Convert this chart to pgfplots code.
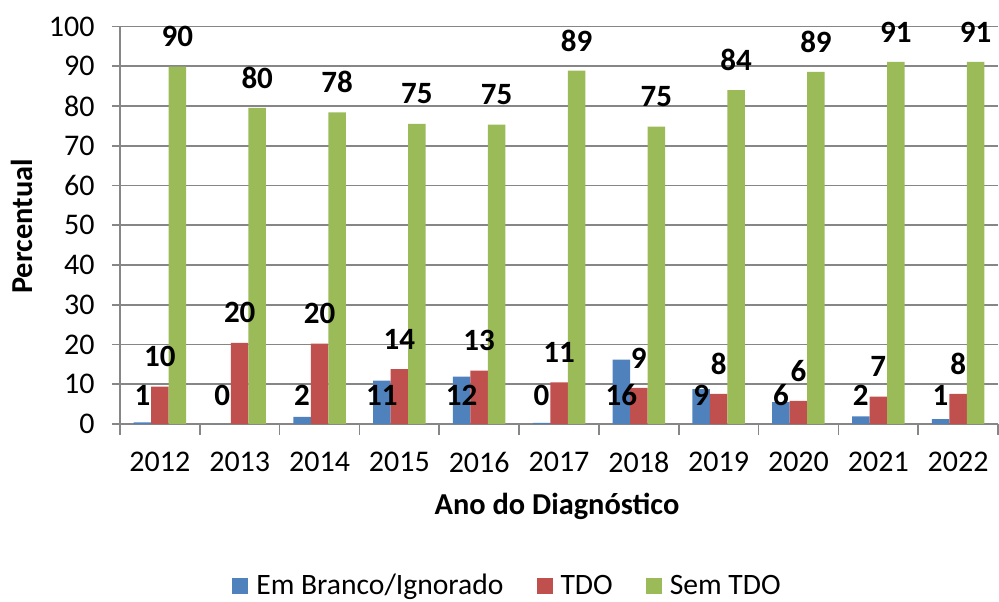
\documentclass[border=0pt]{standalone}
\usepackage{pgfplots}
\usepackage{pgfplotstable}
\pgfplotsset{compat=1.18}
\usepackage{fontspec}
\setmainfont{Carlito}
\definecolor{cblue}{RGB}{79,129,189}
\definecolor{cred}{RGB}{192,80,77}
\definecolor{cgreen}{RGB}{155,187,89}
\definecolor{cgrid}{RGB}{134,134,134}
\pgfplotstableread{
x b r g lb lr lg
0 0.4 9.4 89.9 1 10 90
1 0 20.4 79.5 0 20 80
2 1.8 20.2 78.4 2 20 78
3 10.9 13.8 75.5 11 14 75
4 11.9 13.4 75.3 12 13 75
5 0.3 10.5 88.9 0 11 89
6 16.2 9.1 74.8 16 9 75
7 8.8 7.6 84.0 9 8 84
8 5.5 5.8 88.6 6 6 89
9 1.9 6.9 91.1 2 7 91
10 1.2 7.6 91.1 1 8 91
}\datatab
\begin{document}
\begin{tikzpicture}
\useasboundingbox (-60pt,-88.5pt) rectangle (439.5pt,212pt);
\begin{axis}[
  at={(0,0)}, anchor=south west,
  scale only axis,
  width=439pt, height=198.75pt,
  xmin=-0.5, xmax=10.5,
  ymin=0, ymax=100,
  ybar=0pt, bar width=8.75pt,
  axis x line*=bottom, axis y line*=left,
  axis line style={draw=cgrid, line width=0.8pt, -},
  ymajorgrids, grid style={draw=cgrid, line width=0.8pt},
  ytick={0,10,...,100},
  xtick={0,...,10},
  xticklabels={2012,2013,2014,2015,2016,2017,2018,2019,2020,2021,2022},
  minor xtick={-0.5,0.5,...,10.5},
  tick align=outside,
  major tick length=4pt, minor tick length=5.5pt,
  major x tick style={draw=none},
  tick style={draw=cgrid, line width=0.8pt},
  /pgf/number format/assume math mode=true,
  ticklabel style={font=\fontsize{15}{17}\selectfont},
  yticklabel style={anchor=east, inner sep=0pt, xshift=-8.5pt},
  xticklabel style={anchor=center, inner sep=0pt, yshift=-15pt},
  xlabel={Ano do Diagnóstico},
  ylabel={Percentual},
  xlabel style={font=\bfseries\fontsize{15.2}{17}\selectfont, at={(axis description cs:0.4977,0)}, anchor=center, yshift=-41pt},
  ylabel style={font=\bfseries\fontsize{15.2}{17}\selectfont, at={(axis description cs:-0.1116,0.497)}, anchor=center},
  legend columns=3,
  legend style={at={(axis description cs:0.4402,-0.4075)}, anchor=center, draw=none, fill=none,
    font=\fontsize{14.8}{17}\selectfont,
    nodes={inner sep=0pt},
    /tikz/every odd column/.append style={column sep=4pt},
    /tikz/every even column/.append style={column sep=16.5pt}},
  legend image code/.code={\fill[#1] (0pt,-4pt) rectangle (8pt,4pt);},
  point meta=explicit symbolic,
  nodes near coords,
  every node near coord/.append style={font=\bfseries\fontsize{15.5}{17}\selectfont, inner sep=0pt},
]
\addplot[fill=cblue, draw=none,
  visualization depends on=y \as \rawy,
  every node near coord/.append style={anchor=center, shift={(axis direction cs:0,-\rawy)}, yshift=14.5pt}]
  table[x=x, y=b, meta=lb] {\datatab};
\addplot[fill=cred, draw=none,
  every node near coord/.append style={anchor=center, yshift=15pt}]
  table[x=x, y=r, meta=lr] {\datatab};
\addplot[fill=cgreen, draw=none,
  every node near coord/.append style={anchor=center, yshift=15pt}]
  table[x=x, y=g, meta=lg] {\datatab};
\legend{Em Branco/Ignorado, TDO, Sem TDO}
\end{axis}
\end{tikzpicture}
\end{document}
